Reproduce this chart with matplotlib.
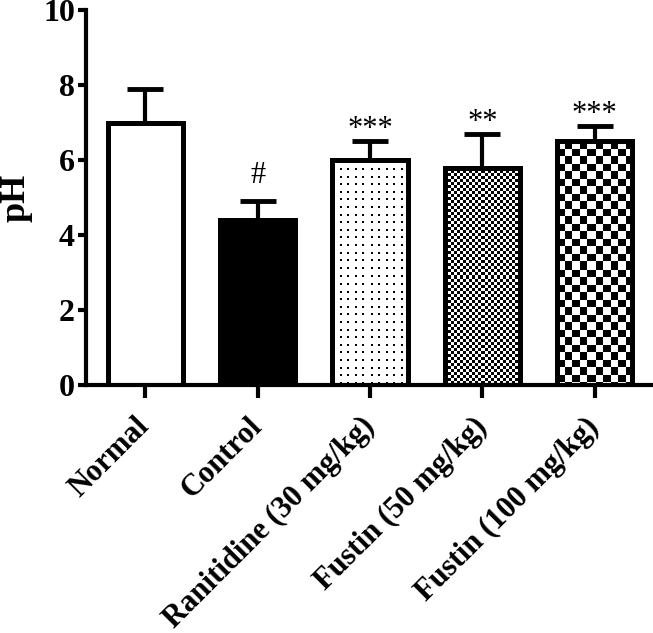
import matplotlib
matplotlib.use("Agg")
import matplotlib.pyplot as plt
import numpy as np

groups = ["Normal", "Control", "Ranitidine (30 mg/kg)", "Fustin (50 mg/kg)", "Fustin (100 mg/kg)"]
ph_mean = [7.0, 4.4, 6.0, 5.8, 6.5]
ph_err = [0.9, 0.5, 0.5, 0.9, 0.4]
signif = ["", "#", "***", "**", "***"]
yticks = [0, 2, 4, 6, 8, 10]

plt.rcParams["font.family"] = ["Liberation Serif", "DejaVu Serif"]
plt.rcParams["font.weight"] = "bold"

fig = plt.figure(figsize=(6.53, 6.33), dpi=100)
ax = fig.add_axes([0.132, 0.392, 0.865, 0.592])

x = np.arange(len(groups))
fills = ["white", "black", "none", "none", "none"]
bars = ax.bar(x, ph_mean, width=0.67, color=fills, edgecolor="black",
              linewidth=3.6, zorder=3)
ax.errorbar(x, ph_mean, yerr=[np.zeros(len(x)), ph_err], fmt="none",
            ecolor="black", elinewidth=3, capsize=13, capthick=3.5, zorder=2)

ax.set_xlim(-0.525, 4.5)
ax.set_ylim(0, 10)
ax.set_yticks(yticks)
ax.set_xticks(x)
ax.set_xticklabels(groups, rotation=45, ha="right", va="center",
                   rotation_mode="anchor", fontsize=22, fontweight="bold")
ax.tick_params(axis="y", labelsize=23, width=3, length=6, pad=2)
ax.tick_params(axis="x", width=3, length=9, pad=18)
for lab in ax.get_yticklabels():
    lab.set_fontweight("bold")
ax.set_ylabel("pH", fontsize=26, fontweight="bold", labelpad=8)
for s in ["top", "right"]:
    ax.spines[s].set_visible(False)
for s in ["left", "bottom"]:
    ax.spines[s].set_linewidth(3)
    ax.spines[s].set_zorder(5)

# pattern fills drawn as pixel images clipped to the bars
fig.canvas.draw()

def pattern(kind, h, w):
    i, j = np.mgrid[0:h, 0:w]
    if kind == "dots":
        return ((i % 7.6 < 2) & (j % 7.5 < 2)).astype(float)
    if kind == "fine":
        return (((i // 3) + (j // 3)) % 2).astype(float)
    return (((i // 7.5).astype(int) + (j // 7.5).astype(int)) % 2).astype(float)

for idx, kind in [(2, "dots"), (3, "fine"), (4, "coarse")]:
    b = bars[idx]
    ext = b.get_window_extent()
    arr = pattern(kind, int(ext.height), int(ext.width))
    im = ax.imshow(arr, cmap="gray_r", vmin=0, vmax=1, interpolation="nearest",
                   extent=[b.get_x(), b.get_x() + b.get_width(), 0, b.get_height()],
                   aspect="auto", zorder=2.5, origin="upper")
    im.set_clip_path(b)
ax.set_xlim(-0.525, 4.5)
ax.set_ylim(0, 10)

for xi, m, e, s in zip(x, ph_mean, ph_err, signif):
    if s:
        off = 13 if s == "#" else 3
        ax.annotate(s, (xi, m + e), xytext=(0, off), textcoords="offset points",
                    ha="center", va="baseline", fontsize=22, fontweight="normal")

fig.savefig("out.png", dpi=100)
